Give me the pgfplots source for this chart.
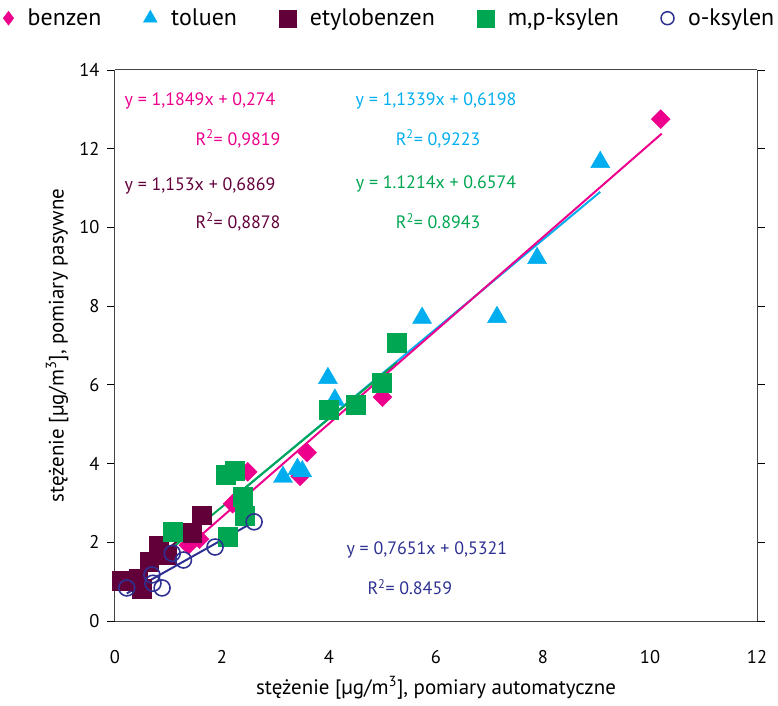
\documentclass[border=0pt]{standalone}
\usepackage{pgfplots}
\pgfplotsset{compat=1.18}
\usepackage{fontspec}
\setmainfont{PT Sans}
\definecolor{cbenz}{HTML}{EC008C}
\definecolor{ctol}{HTML}{00AEEF}
\definecolor{cetyl}{HTML}{62003A}
\definecolor{cmp}{HTML}{00A651}
\definecolor{cok}{HTML}{2E3192}
\definecolor{frame}{HTML}{444444}
\begin{document}
\begin{tikzpicture}
\begin{axis}[
  scale only axis,
  width=642bp, height=551bp,
  xmin=0, xmax=12, ymin=0, ymax=14,
  xtick={0,2,...,12}, ytick={0,2,...,14},
  axis line style={frame, line width=1pt},
  separate axis lines,
  tick align=outside,
  xtick style={draw=none},
  ytick style={black, line width=0.8pt},
  major tick length=8bp,
  ticklabel style={font=\fontsize{18.5}{20}\selectfont},
  /pgf/number format/assume math mode=true,
  xticklabel style={yshift=-18bp},
  yticklabel style={xshift=-4bp},
  xlabel={stężenie [µg/m\textsuperscript{3}], pomiary automatyczne},
  ylabel={stężenie [µg/m\textsuperscript{3}], pomiary pasywne},
  label style={font=\fontsize{21}{23}\selectfont},
  xlabel style={yshift=-6bp},
  ylabel style={yshift=4bp},
  legend columns=5,
  legend style={at={(0.428,1.094)}, anchor=center, draw=none, fill=none,
    font=\fontsize{24}{26}\selectfont,
    /tikz/every odd column/.append style={column sep=12bp},
    /tikz/every even column/.append style={column sep=40bp}},
  legend cell align=left,
  clip=false,
]
% benzen
\addplot[only marks, mark=square*, mark size=6.7bp, color=cbenz, mark options={rotate=45}, forget plot] coordinates {
(10.2,12.75) (5.0,5.69) (3.59,4.28) (3.46,3.68) (2.48,3.79) (2.2,2.98) (1.58,2.08) (1.37,1.93)};
% toluen
\addplot[only marks, mark=triangle*, mark size=11bp, color=ctol, forget plot] coordinates {
(9.07,11.66) (7.89,9.22) (7.14,7.72) (5.74,7.7) (3.98,6.17) (4.11,5.62) (3.14,3.66) (3.41,3.86) (3.5,3.8)};
% etylobenzen
\addplot[only marks, mark=square*, mark size=9.3bp, color=cetyl, forget plot] coordinates {
(0.13,1.03) (0.43,1.08) (0.5,0.82) (0.64,1.5) (0.82,1.92) (0.97,1.68) (1.44,2.24) (1.62,2.69)};
% m,p-ksylen
\addplot[only marks, mark=square*, mark size=9.5bp, color=cmp, forget plot] coordinates {
(5.27,7.08) (4.99,6.06) (4.49,5.5) (4.0,5.36) (2.06,3.72) (2.24,3.83) (2.39,3.16) (2.43,2.67) (2.11,2.14) (1.08,2.28)};
% o-ksylen
\addplot[only marks, mark=o, mark size=8bp, color=cok, line width=1.6pt, forget plot] coordinates {
(0.22,0.84) (0.69,1.17) (0.71,0.96) (0.88,0.84) (1.07,1.72) (1.28,1.55) (1.87,1.88) (2.6,2.52)};
% trend lines
\addplot[cetyl, line width=2pt, forget plot] coordinates {(0.13,0.837) (1.62,2.555)};
\addplot[ctol, line width=2pt, forget plot] coordinates {(2.1,3.001) (9.07,10.904)};
\addplot[cmp, line width=2pt, forget plot] coordinates {(1.08,1.868) (5.27,6.567)};
\addplot[cbenz, line width=2pt, forget plot] coordinates {(1.3,1.814) (10.22,12.384)};
\addplot[cok, line width=2pt, forget plot] coordinates {(0.22,0.7004) (2.6,2.521)};
% legend
\addlegendimage{only marks, mark=diamond*, mark size=7bp, color=cbenz}
\addlegendentry{benzen}
\addlegendimage{only marks, mark=triangle*, mark size=8bp, color=ctol}
\addlegendentry{toluen}
\addlegendimage{only marks, mark=square*, mark size=8.5bp, color=cetyl}
\addlegendentry{etylobenzen}
\addlegendimage{only marks, mark=square*, mark size=8.5bp, color=cmp}
\addlegendentry{m,p-ksylen}
\addlegendimage{only marks, mark=o, mark size=6.5bp, line width=1.5pt, color=cok}
\addlegendentry{o-ksylen}
% equations
\begin{scope}[every node/.style={font=\fontsize{18}{20}\selectfont}]
\node[text=cbenz] at (axis cs:1.59,13.21) {y = 1,1849x + 0,274};
\node[text=cbenz] at (axis cs:2.30,12.25) {R\textsuperscript{2}= 0,9819};
\node[text=cetyl] at (axis cs:1.59,11.05) {y = 1,153x + 0,6869};
\node[text=cetyl] at (axis cs:2.30,10.14) {R\textsuperscript{2}= 0,8878};
\node[text=ctol] at (axis cs:6.0,13.21) {y = 1,1339x + 0,6198};
\node[text=ctol] at (axis cs:6.04,12.25) {R\textsuperscript{2}= 0,9223};
\node[text=cmp] at (axis cs:6.0,11.10) {y = 1.1214x + 0.6574};
\node[text=cmp] at (axis cs:6.04,10.16) {R\textsuperscript{2}= 0.8943};
\node[text=cok] at (axis cs:5.83,1.80) {y = 0,7651x + 0,5321};
\node[text=cok] at (axis cs:5.51,0.86) {R\textsuperscript{2}= 0.8459};
\end{scope}
\end{axis}
\pgfresetboundingbox
\path (-115bp,-85bp) rectangle (663bp,621bp);
\end{tikzpicture}
\end{document}
